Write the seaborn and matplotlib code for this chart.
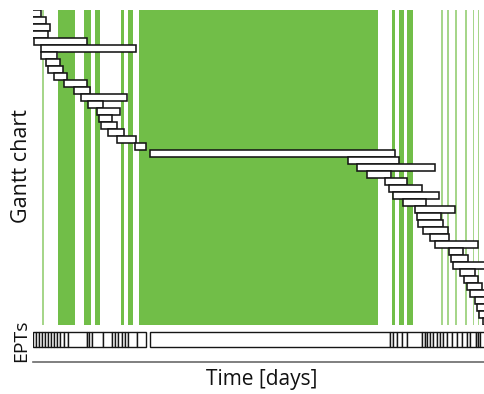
import matplotlib
matplotlib.use("Agg")
import matplotlib.pyplot as plt
import seaborn as sns

sns.set_style("white")
plt.rcParams["font.family"] = ["Open Sans", "DejaVu Sans"]

# Task windows (start day, end day), listed top to bottom
task_start = [-10, -10, -10, -10, 1, 8, 8, 13, 15, 21, 31, 41, 48, 55, 64, 66, 68, 75, 84, 102,
              117, 315, 324, 334, 352, 356, 360, 370, 382, 384, 385, 390, 397, 402, 416, 418,
              420, 427, 431, 434, 437, 442, 444, 446, 450]
task_end = [8, 13, 17, 15, 54, 103, 24, 27, 30, 34, 54, 57, 94, 70, 87, 79, 84, 91, 103, 113,
            362, 366, 402, 358, 374, 389, 406, 393, 422, 408, 410, 415, 416, 445, 430, 435,
            460, 442, 445, 449, 452, 460, 460, 460, 460]

# Active periods (start day, end day)
active_start = [25, 51, 62, 88, 95, 106, 359, 366, 374]
active_end = [42, 58, 67, 91, 100, 345, 362, 371, 380]
# Short active periods
brief_start = [9, 408, 414, 422, 432, 440, 445]
brief_end = [11, 410, 416, 424, 434, 441, 446]

# EPT interval boundaries, two runs
ept_edges_a = [0, 3, 6, 9, 12, 15, 18, 21, 24, 27, 31, 35, 54, 56, 59, 70, 79, 82, 85, 89, 92,
               95, 104, 113]
ept_edges_b = [117, 357, 360, 364, 369, 374, 389, 392, 394, 397, 400, 404, 407, 410, 414, 419,
               424, 429, 434, 437, 443, 445, 447, 460]

GREEN = "#71be48"
LIGHT_GREEN = "#a6d68a"

fig = plt.figure(figsize=(4.85, 3.94), dpi=100)
W, H = 485, 394
x0, x1 = 33, 485

def frame(top, bottom):
    return [x0 / W, (H - bottom) / H, (x1 - x0) / W, (bottom - top) / H]

XMIN, XMAX = 0, 452

# Gantt chart
ax = fig.add_axes(frame(10, 325))
for s, e in zip(active_start, active_end):
    ax.axvspan(s, e, color=GREEN, lw=0, zorder=1)
for s, e in zip(brief_start, brief_end):
    ax.axvspan(s, e, color=LIGHT_GREEN, lw=0, zorder=1)

rows = list(range(len(task_start)))
widths = [e - s for s, e in zip(task_start, task_end)]
ax.barh(rows, widths, left=task_start, height=1.0, align="edge",
        color="white", edgecolor="#151515", linewidth=1.15, zorder=3)
ax.set_xlim(XMIN, XMAX)
ax.set_ylim(len(rows), 0)
ax.set_xticks([])
ax.set_yticks([])
for sp in ax.spines.values():
    sp.set_visible(False)
ax.patch.set_alpha(0)

# EPT strip
ax2 = fig.add_axes(frame(326, 362))
for edges in (ept_edges_a, ept_edges_b):
    lefts = edges[:-1]
    w = [b - a for a, b in zip(edges[:-1], edges[1:])]
    ax2.barh([0.625] * len(lefts), w, left=lefts, height=0.42,
             color="white", edgecolor="#151515", linewidth=1.0, zorder=3)
ax2.set_xlim(XMIN, XMAX)
ax2.set_ylim(0, 1)
ax2.set_xticks([])
ax2.set_yticks([])
for name, sp in ax2.spines.items():
    sp.set_visible(name == "bottom")
ax2.spines["bottom"].set_color("#6a6a6a")
ax2.spines["bottom"].set_linewidth(1.2)
ax2.patch.set_alpha(0)

fig.text(22 / W, 1 - 166 / H, "Gantt chart", rotation=90, ha="center", va="center",
         fontsize=15.5, color="#111111")
fig.text(21 / W, 1 - 341 / H, "EPTs", rotation=90, ha="center", va="center",
         fontsize=14, color="#111111")
fig.text(262 / W, 1 - 379 / H, "Time [days]", ha="center", va="center",
         fontsize=15, color="#111111")

fig.savefig("out.png", dpi=100)
